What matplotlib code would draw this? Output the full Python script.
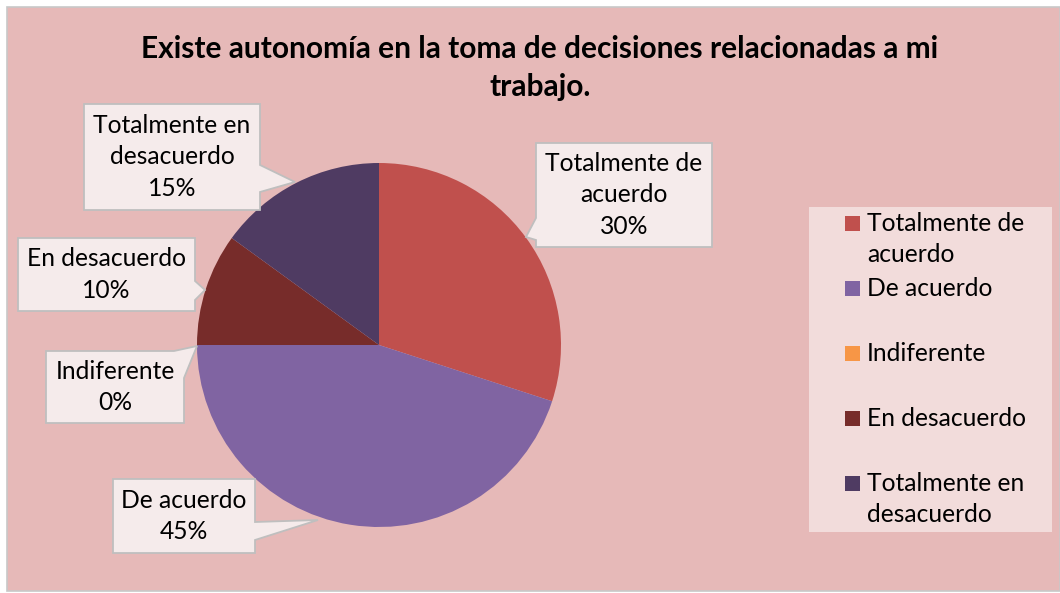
import matplotlib.pyplot as plt
from matplotlib.patches import Polygon, Rectangle

# data
labels = ['Totalmente de acuerdo', 'De acuerdo', 'Indiferente', 'En desacuerdo', 'Totalmente en desacuerdo']
wrapped = ['Totalmente de\nacuerdo', 'De acuerdo', 'Indiferente', 'En desacuerdo', 'Totalmente en\ndesacuerdo']
values = [30, 45, 0, 10, 15]
colors = ['#C0504D', '#8064A2', '#F79646', '#772C2A', '#4F3B62']
title = 'Existe autonomía en la toma de decisiones relacionadas a mi\ntrabajo.'

W, H = 1060, 593
plt.rcParams['font.family'] = ['Lato', 'DejaVu Sans']

fig = plt.figure(figsize=(W / 100, H / 100), dpi=100)
fig.patch.set_facecolor('white')
ax = fig.add_axes([0, 0, 1, 1])


def Y(y):
    return H - y


# chart area
ax.add_patch(Rectangle((7, Y(591)), W - 7, 584, facecolor='#E6B9B8', edgecolor='#C8C8C8', lw=1.2, zorder=0))

ax.pie(values, colors=colors, startangle=90, counterclock=False,
       center=(379, Y(345)), radius=182, wedgeprops=dict(linewidth=0))

ax.text(540, Y(68), title, ha='center', va='center', fontsize=21.5, fontweight='bold',
        linespacing=1.42, color='black')

# callout boxes: box (x0, y0, x1, y1) and pointer polygon points (pixel coords, y down)
callouts = [
    ((536, 143, 712, 247), [(536, 218), (526, 237), (536, 240)]),
    ((113, 479, 255, 553), [(255, 522), (318, 520), (255, 540)]),
    ((46, 351, 184, 423), [(174, 351), (197, 346), (184, 378)]),
    ((18, 238, 195, 311), [(195, 281), (205, 290), (195, 300)]),
    ((84, 104, 260, 210), [(260, 165), (295, 182), (260, 192)]),
]

for (box, ptr), name, v in zip(callouts, wrapped, values):
    x0, y0, x1, y1 = box
    # insert pointer into the outline
    if ptr[0][0] == x1 and ptr[-1][0] == x1:
        outline = [(x0, y0), (x1, y0)] + ptr + [(x1, y1), (x0, y1)]
    elif ptr[0][0] == x0:
        outline = [(x0, y0), (x1, y0), (x1, y1), (x0, y1)] + ptr[::-1]
    else:
        outline = [(x0, y0)] + ptr + [(x1, y1), (x0, y1)]
    ax.add_patch(Polygon([(px, Y(py)) for px, py in outline], closed=True,
                         facecolor='#F5EBEB', edgecolor='#BFBFBF', lw=1.3, zorder=3))
    ax.text((x0 + x1) / 2, Y((y0 + y1) / 2), '%s\n%d%%' % (name, v), ha='center', va='center',
            fontsize=17.7, linespacing=1.45, color='black', zorder=4)

# legend
ax.add_patch(Rectangle((809, Y(532)), 243, 325, facecolor='#F2DCDB', edgecolor='none', zorder=2))
for i, (name, c) in enumerate(zip(wrapped, colors)):
    cy = 223 + i * 65
    ax.add_patch(Rectangle((845, Y(cy + 7.5)), 15, 15, facecolor=c, edgecolor='none', zorder=3))
    ax.text(867, Y(cy - 11), name, ha='left', va='top', fontsize=17.7, linespacing=1.4,
            color='black', zorder=4)

ax.set_xlim(0, W)
ax.set_ylim(0, H)
ax.set_aspect('auto')
ax.axis('off')

fig.savefig('out.png', dpi=100, facecolor='white')
